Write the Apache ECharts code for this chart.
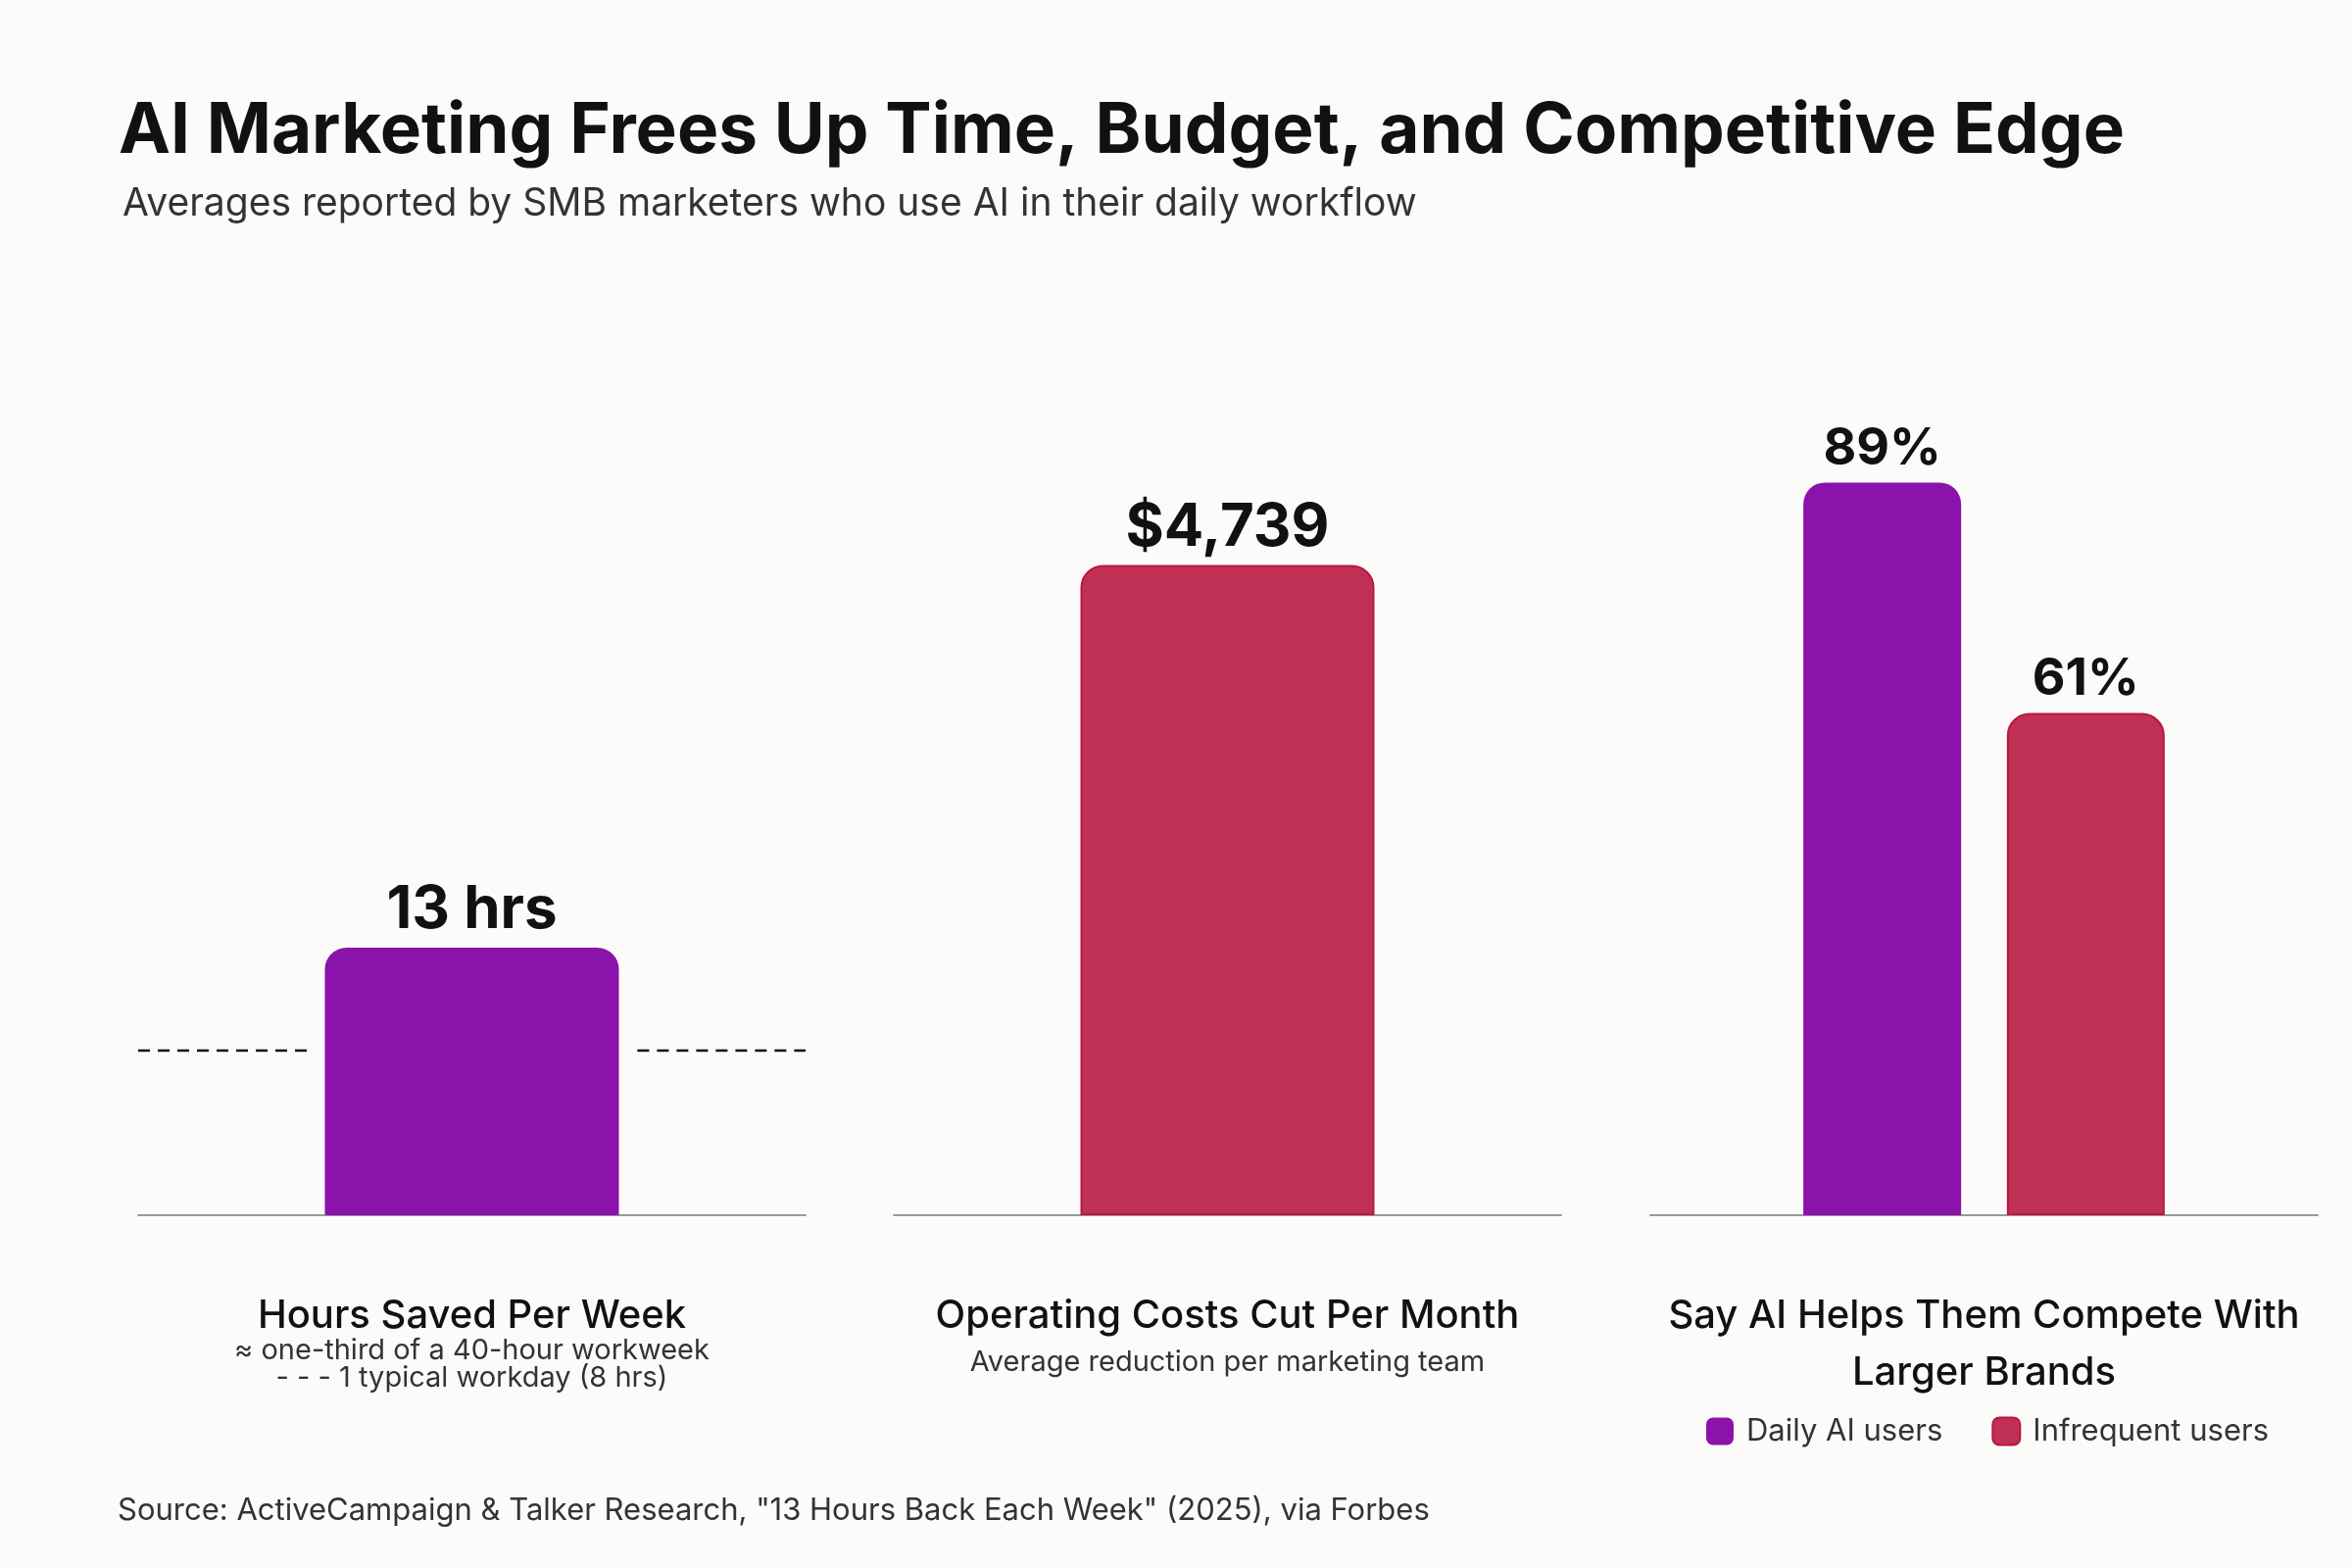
<!DOCTYPE html>
<html><head><meta charset="utf-8">
<script src="https://cdn.jsdelivr.net/npm/echarts@6/dist/echarts.min.js"></script>
<style>html,body{margin:0;padding:0;background:#FCFBF9}#c{width:2400px;height:1600px}</style>
</head><body><div id="c"></div>
<script>
const hoursSaved = [13];
const workdayHours = 8;
const costsCut = [4739];
const dailyUsers = [89];
const infrequentUsers = [61];
const panelTitles = ['Hours Saved Per Week','Operating Costs Cut Per Month','Say AI Helps Them Compete With\nLarger Brands'];
const panelSubs = ['≈ one-third of a 40-hour workweek\n- - - 1 typical workday (8 hrs)','Average reduction per marketing team',''];
const legendNames = ['Daily AI users','Infrequent users'];

const PURPLE='#8B12AA', RED='#C03055';
const F='Inter, "Noto Sans", sans-serif';
const grids=[{left:141,width:681},{left:912,width:681},{left:1684,width:681}].map(g=>({left:g.left,width:g.width,top:400,height:840}));
const xAxes=grids.map((g,i)=>({gridIndex:i,type:'category',data:['a'],axisLine:{lineStyle:{color:'#9a9a9a',width:2}},axisTick:{show:false},axisLabel:{show:false}}));
xAxes.push({gridIndex:0,type:'value',min:0,max:1,show:false,splitLine:{show:false}});
const maxes=[40,6000,100];
const yAxes=maxes.map((m,i)=>({gridIndex:i,type:'value',min:0,max:m,show:false,splitLine:{show:false}}));
const lbl=(fmt,size)=>({show:true,position:'top',distance:8,formatter:fmt,fontFamily:F,fontWeight:'bold',fontSize:size,color:'#111'});
const radius=[22,22,0,0];
const dashStyle={color:'#111',type:[12,8],width:2.5};
const dashSeg=(a,b)=>({type:'line',xAxisIndex:3,yAxisIndex:0,data:[[a,workdayHours],[b,workdayHours]],symbol:'none',lineStyle:dashStyle,silent:true});
const chart=echarts.init(document.getElementById('c'));
chart.setOption({
  backgroundColor:'#FCFBF9',
  animation:false,
  title:[{text:'AI Marketing Frees Up Time, Budget, and Competitive Edge',left:116,top:94,textStyle:{fontFamily:F,fontWeight:'bold',fontSize:71,color:'#111'}},
         {text:'Averages reported by SMB marketers who use AI in their daily workflow',left:120,top:184,textStyle:{fontFamily:F,fontWeight:'normal',fontSize:39,color:'#333'}}],
  grid:grids, xAxis:xAxes, yAxis:yAxes,
  legend:{data:legendNames,left:1736,top:1440,itemWidth:28,itemHeight:28,itemGap:50,icon:'roundRect',textStyle:{fontFamily:F,fontSize:31,color:'#333',padding:[0,0,0,8]}},
  series:[
    dashSeg(0,0.253),
    dashSeg(0.748,1),
    {type:'bar',xAxisIndex:0,yAxisIndex:0,data:hoursSaved,barWidth:300,itemStyle:{color:PURPLE,borderRadius:radius},label:lbl(v=>v.value+' hrs',60)},
    {type:'bar',xAxisIndex:1,yAxisIndex:1,data:costsCut,barWidth:300,itemStyle:{color:RED,borderColor:'#B81840',borderWidth:2,borderRadius:radius},label:lbl(v=>'$'+v.value.toLocaleString('en-US'),60)},
    {name:legendNames[0],type:'bar',xAxisIndex:2,yAxisIndex:2,data:dailyUsers,barWidth:161,barGap:'29%',itemStyle:{color:PURPLE,borderRadius:radius},label:lbl(v=>v.value+'%',52)},
    {name:legendNames[1],type:'bar',xAxisIndex:2,yAxisIndex:2,data:infrequentUsers,barWidth:161,itemStyle:{color:RED,borderColor:'#B81840',borderWidth:2,borderRadius:radius},label:lbl(v=>v.value+'%',52)}
  ],
  graphic:[
    ...grids.map((g,i)=>({type:'text',x:g.left+g.width/2,y:1314,style:{text:panelTitles[i],align:'center',verticalAlign:'top',font:'500 40px '+F,fill:'#111',lineHeight:58}})),
    {type:'text',x:grids[0].left+grids[0].width/2,y:1364,style:{text:panelSubs[0],align:'center',verticalAlign:'top',font:'29px '+F,fill:'#333',lineHeight:28}},
    {type:'text',x:grids[1].left+grids[1].width/2,y:1376,style:{text:panelSubs[1],align:'center',verticalAlign:'top',font:'29px '+F,fill:'#333'}},
    {type:'text',x:120,y:1526,style:{text:'Source: ActiveCampaign & Talker Research, "13 Hours Back Each Week" (2025), via Forbes',font:'31px '+F,fill:'#333'}}
  ]
});
</script></body></html>
